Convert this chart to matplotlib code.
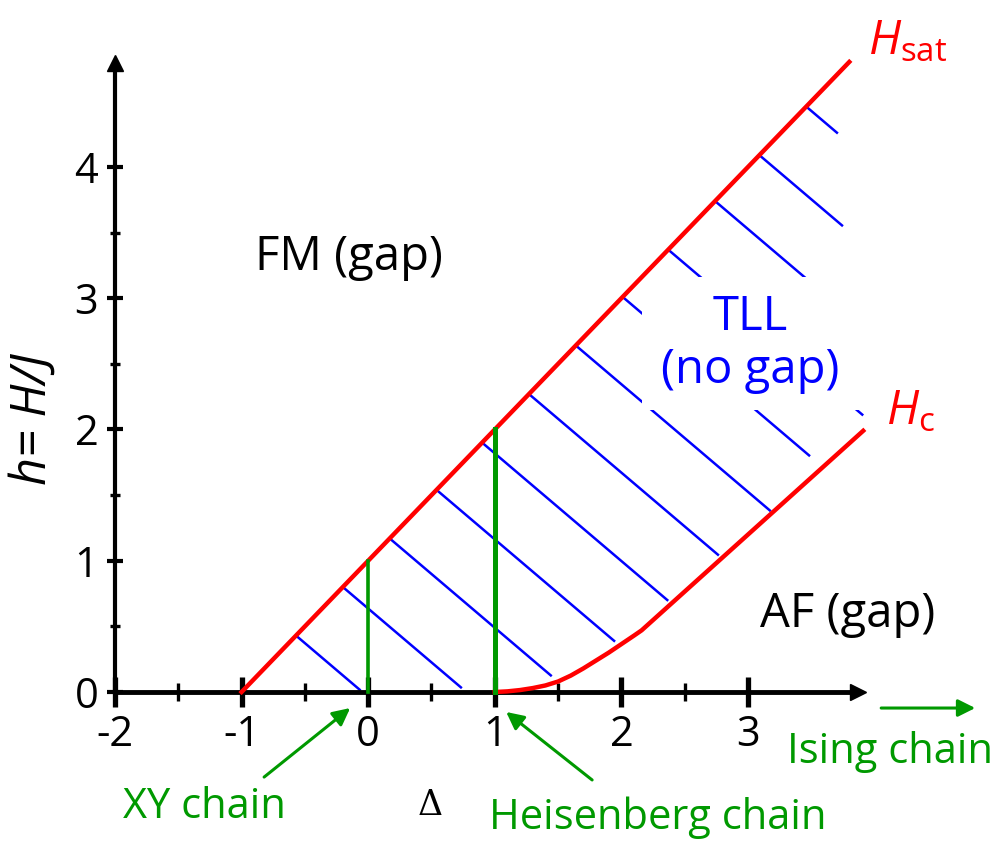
import matplotlib
matplotlib.use("Agg")
import matplotlib.pyplot as plt
from matplotlib.patches import Rectangle

plt.rcParams['font.family'] = ['Open Sans', 'DejaVu Sans']
plt.rcParams['mathtext.fontset'] = 'custom'
plt.rcParams['mathtext.rm'] = 'Open Sans'
plt.rcParams['mathtext.it'] = 'Open Sans:italic'

RED = '#ff0000'
BLUE = '#0000ff'
GREEN = '#009900'

# saturation field H_sat = 1 + Delta (straight line)
hsat_delta = [-1.0, 3.8]
hsat_h = [0.0, 4.8]

# critical field H_c, opens at the Heisenberg point
hc_delta = [1.0, 1.1, 1.2, 1.3, 1.4, 1.5, 1.6, 1.7, 1.8, 1.9, 2.0, 2.1, 2.16, 3.91]
hc_h = [0.0, 0.005, 0.015, 0.03, 0.05, 0.08, 0.125, 0.18, 0.24, 0.30, 0.365, 0.43, 0.47, 1.99]

# hatching of the TLL region: start on H_sat, run down to the right
hatch_start = [-0.57, -0.20, 0.17, 0.54, 0.90, 1.27, 1.64, 2.01, 2.37, 2.74, 3.09, 3.46]
hatch_end = [-0.06, 0.74, 1.45, 1.95, 2.37, 2.77, 3.18, 3.49, 3.91, 3.78, 3.75, 3.71]
hatch_slope = -0.82

# special chains marked in green
xy_delta, xy_top = 0.0, 1.0
heis_delta, heis_top = 1.0, 2.0

x_major = [-2, -1, 0, 1, 2, 3]
x_minor = [-1.5, -0.5, 0.5, 1.5, 2.5]
y_major = [0, 1, 2, 3, 4]
y_minor = [0.5, 1.5, 2.5, 3.5]
x_axis_end = 3.93
y_axis_end = 4.86

fig = plt.figure(figsize=(10.05, 8.41), dpi=100)
ax = fig.add_axes([0, 0, 1, 1])
ax.set_xlim(-2.908, 5.030)
ax.set_ylim(-1.135, 5.272)
ax.patch.set_visible(False)

# axes through the origin with arrow heads
ax.spines['top'].set_visible(False)
ax.spines['right'].set_visible(False)
ax.spines['bottom'].set_position(('data', 0))
ax.spines['left'].set_position(('data', -2))
ax.spines['bottom'].set_bounds(-2, x_axis_end - 0.1)
ax.spines['left'].set_bounds(0, y_axis_end - 0.1)
ax.spines['bottom'].set_linewidth(3.5)
ax.spines['left'].set_linewidth(3.0)
ax.plot(x_axis_end - 0.065, 0, marker='>', ms=12, color='k', clip_on=False, zorder=6)
ax.plot(-2, y_axis_end - 0.065, marker='^', ms=12, color='k', clip_on=False, zorder=6)

ax.set_xticks(x_major)
ax.set_xticks(x_minor, minor=True)
ax.set_yticks(y_major)
ax.set_yticks(y_minor, minor=True)
ax.set_xticklabels([str(v) for v in x_major])
ax.set_yticklabels([str(v) for v in y_major])
ax.tick_params(axis='x', which='major', direction='inout', length=21, width=3.8, pad=5, labelsize=30)
ax.tick_params(axis='x', which='minor', direction='inout', length=13, width=2.4)
ax.tick_params(axis='y', which='major', direction='inout', length=12, width=3.0, pad=6, labelsize=30)
ax.tick_params(axis='y', which='minor', direction='inout', length=7, width=2.4)

# hatch lines
for d0, d1 in zip(hatch_start, hatch_end):
    h0 = 1 + d0
    h1 = h0 + hatch_slope * (d1 - d0)
    ax.plot([d0, d1], [h0, h1], color=BLUE, lw=1.8, solid_capstyle='butt', zorder=2)

# white space behind the TLL label
ax.add_patch(Rectangle((2.16, 2.15), 1.84, 1.01, facecolor='white', edgecolor='none', zorder=3))

ax.plot(hsat_delta, hsat_h, color=RED, lw=3.2, zorder=4)
ax.plot(hc_delta, hc_h, color=RED, lw=3.2, zorder=4, solid_joinstyle='round')

ax.plot([xy_delta, xy_delta], [0, xy_top], color=GREEN, lw=2.6, zorder=5)
ax.plot([heis_delta, heis_delta], [0, heis_top], color=GREEN, lw=3.6, zorder=5)

# region labels
ax.text(-0.15, 3.31, 'FM (gap)', fontsize=34, ha='center', va='center')
ax.text(3.79, 0.59, 'AF (gap)', fontsize=34, ha='center', va='center')
ax.text(3.02, 2.65, 'TLL\n(no gap)', fontsize=34, color=BLUE, ha='center', va='center',
        linespacing=1.15, zorder=6)
ax.text(3.95, 4.96, r'$H_{\rm sat}$', fontsize=34, color=RED, ha='left', va='center')
ax.text(4.09, 2.14, r'$H_{\rm c}$', fontsize=34, color=RED, ha='left', va='center')

ax.text(-2.648, 2.08, 'h= H/J', fontsize=35, style='italic', rotation=90,
        ha='center', va='center')
ax.text(0.49, -0.861, '\u0394', fontsize=25, family=['DejaVu Serif'],
        ha='center', va='center')

# chain annotations
arrow = dict(arrowstyle='-|>', color=GREEN, lw=2.2, mutation_scale=26, shrinkA=0, shrinkB=0)
ax.annotate('', xy=(-0.142, -0.122), xytext=(-0.822, -0.648), arrowprops=arrow, annotation_clip=False)
ax.annotate('', xy=(1.090, -0.152), xytext=(1.769, -0.670), arrowprops=arrow, annotation_clip=False)
ax.annotate('', xy=(4.795, -0.122), xytext=(4.052, -0.122), arrowprops=arrow, annotation_clip=False)
ax.text(-1.295, -0.876, 'XY chain', fontsize=30, color=GREEN, ha='center', va='center')
ax.text(2.29, -0.96, 'Heisenberg chain', fontsize=30, color=GREEN, ha='center', va='center')
ax.text(4.12, -0.457, 'Ising chain', fontsize=30, color=GREEN, ha='center', va='center')

fig.savefig('out.png', dpi=100)
